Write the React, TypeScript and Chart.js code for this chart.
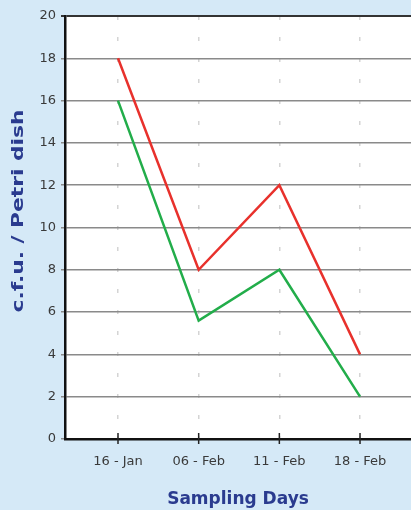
import React, { useEffect, useRef } from "react";
import { Chart, registerables } from "chart.js";

Chart.register(...registerables);

const categories = ["16 - Jan", "06 - Feb", "11 - Feb", "18 - Feb"];
const redValues = [18, 8, 12, 4];
const greenValues = [16, 5.6, 8, 2];
const yTicks = [0, 2, 4, 6, 8, 10, 12, 14, 16, 18, 20];
const yTitle = "c.f.u. / Petri dish";
const xTitle = "Sampling Days";

const BG = "#d5e9f7";
const TITLE = "#2a3b8f";
const FONT = "'DejaVu Sans', Arial, sans-serif";

const bgPlugin = {
  id: "bgPlugin",
  beforeDraw(chart: any) {
    const { ctx, chartArea } = chart;
    ctx.save();
    ctx.fillStyle = BG;
    ctx.fillRect(0, 0, chart.width, chart.height);
    ctx.fillStyle = "#ffffff";
    ctx.fillRect(chartArea.left, chartArea.top, chartArea.right - chartArea.left, chartArea.bottom - chartArea.top);
    ctx.restore();
  },
  afterDraw(chart: any) {
    const { ctx, chartArea } = chart;
    const xs = chart.scales.x;
    ctx.save();
    ctx.strokeStyle = "#222";
    ctx.lineWidth = 1.5;
    categories.forEach((_, i) => {
      const px = xs.getPixelForValue(i);
      ctx.beginPath();
      ctx.moveTo(px, chartArea.bottom - 6);
      ctx.lineTo(px, chartArea.bottom + 5);
      ctx.stroke();
    });
    // stretched y axis title
    ctx.font = `bold 16px ${FONT}`;
    ctx.fillStyle = TITLE;
    ctx.textAlign = "center";
    ctx.textBaseline = "middle";
    const w = ctx.measureText(yTitle).width;
    ctx.translate(19, 211);
    ctx.rotate(-Math.PI / 2);
    ctx.scale(203 / w, 1);
    ctx.fillText(yTitle, 0, 0);
    ctx.restore();
  },
};

export default function App() {
  const ref = useRef<HTMLCanvasElement>(null);
  useEffect(() => {
    document.body.style.margin = "0";
    document.body.style.background = BG;
    const chart = new Chart(ref.current!, {
      type: "line",
      data: {
        datasets: [
          {
            data: redValues.map((v, i) => ({ x: i, y: v })),
            borderColor: "#e8312c",
            borderWidth: 2.5,
            pointRadius: 0,
            tension: 0,
          },
          {
            data: greenValues.map((v, i) => ({ x: i, y: v })),
            borderColor: "#22ad4a",
            borderWidth: 2.5,
            pointRadius: 0,
            tension: 0,
          },
        ],
      },
      options: {
        animation: false,
        responsive: false,
        maintainAspectRatio: false,
        layout: { padding: { top: 16, right: 0, left: 0, bottom: 0 } },
        plugins: { legend: { display: false }, tooltip: { enabled: false } },
        scales: {
          x: {
            type: "linear",
            min: -0.657,
            max: 3.632,
            afterBuildTicks: (scale: any) => {
              scale.ticks = categories.map((_, i) => ({ value: i }));
            },
            afterFit: (scale: any) => {
              scale.height = 71;
            },
            ticks: {
              callback: (v: any) => categories[v] ?? "",
              color: "#3a3a3a",
              font: { family: FONT, size: 13 },
              padding: 15,
              maxRotation: 0,
            },
            grid: {
              color: "#d4d4d4",
              lineWidth: 1.5,
              drawTicks: false,
            },
            border: { display: true, color: "#111", width: 2.5, dash: [4, 17] },
            title: {
              display: true,
              text: xTitle,
              color: TITLE,
              font: { family: FONT, size: 17, weight: "bold" },
              padding: { top: 9, bottom: 0 },
            },
          },
          y: {
            min: 0,
            max: 20,
            afterBuildTicks: (scale: any) => {
              scale.ticks = yTicks.map((v) => ({ value: v }));
            },
            afterFit: (scale: any) => {
              scale.width = 65;
            },
            ticks: {
              color: "#3a3a3a",
              font: { family: FONT, size: 13 },
              padding: 5,
            },
            grid: {
              color: (c: any) => (c.tick && c.tick.value === 20 ? "#333" : "#8a8a8a"),
              lineWidth: (c: any) => (c.tick && c.tick.value === 20 ? 2 : 1.5),
              tickLength: 4,
            },
            border: { display: true, color: "#111", width: 2.5 },
            title: { display: false },
          },
        },
      } as any,
      plugins: [bgPlugin],
    });
    return () => chart.destroy();
  }, []);
  return <canvas ref={ref} width={411} height={510} style={{ display: "block" }} />;
}
